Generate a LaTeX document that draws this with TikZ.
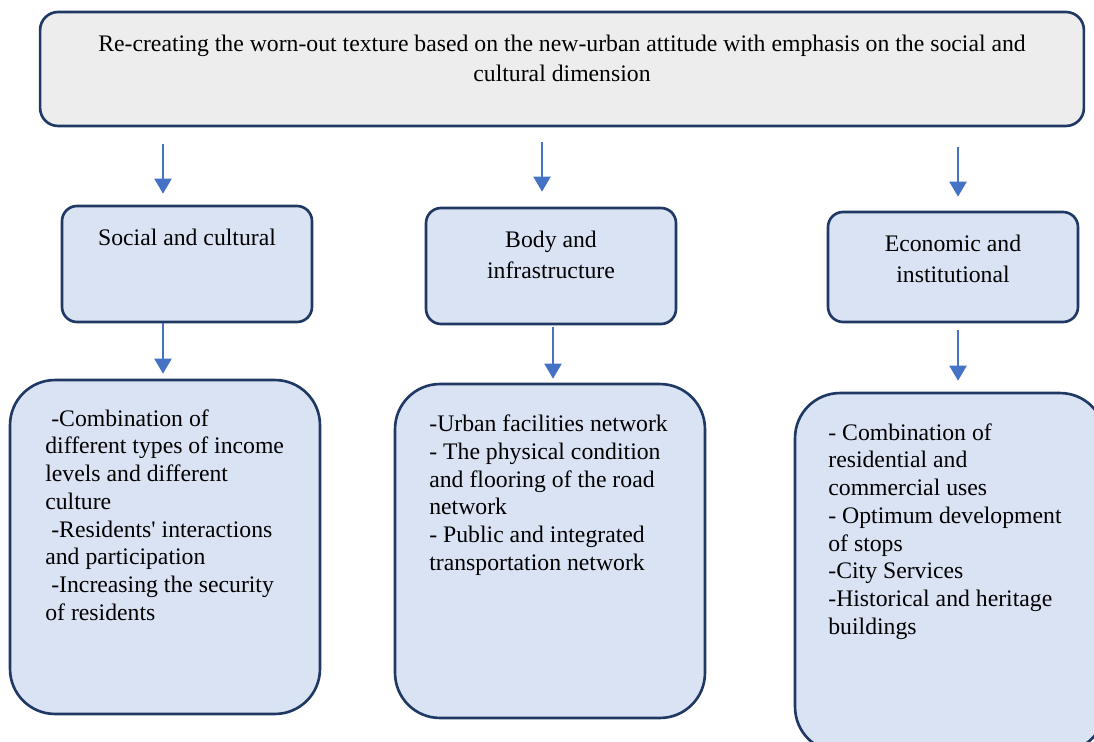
\documentclass[tikz,border=0pt]{standalone}
\usepackage{fontspec}
\setmainfont{Liberation Serif}
\usetikzlibrary{arrows.meta,positioning}
\definecolor{navy}{HTML}{1F3864}
\definecolor{arrowblue}{HTML}{4472C4}
\definecolor{greyfill}{HTML}{EDEDED}
\definecolor{bluefill}{HTML}{DAE3F3}

\tikzset{
  box/.style={draw=navy, line width=1.5pt, inner sep=0pt},
  headbox/.style={box, fill=greyfill, rounded corners=0.36cm},
  aspectbox/.style={box, fill=bluefill, rounded corners=0.3cm,
    minimum width=5cm},
  itembox/.style={box, fill=bluefill, rounded corners=0.9cm,
    minimum width=6.2cm},
  txt/.style={inner sep=0pt, font=\fontsize{13.5}{#1}\selectfont},
  flow/.style={->, draw=arrowblue, line width=1.2pt}
}

\begin{document}
\begin{tikzpicture}[x=0.02cm, y=-0.02cm,
    >={Triangle[length=0.3cm, width=0.34cm]}]
  \useasboundingbox (0,0) rectangle (1094,742);
  \clip (0,0) rectangle (1094,742);

  % goal on top (text placed by the baseline of its last line)
  \node[headbox, minimum width=20.88cm, minimum height=2.28cm] (goal) at (562,69) {};
  \node[txt=17pt, align=center, anchor=base] at (562,81.5)
    {Re-creating the worn-out texture based on the new-urban attitude with emphasis on the social and\\
     cultural dimension};

  % the three dimensions
  \node[aspectbox, minimum height=2.32cm] (soc) at (187,264) {};
  \node[aspectbox, minimum height=2.32cm] (body) at (551,266) {};
  \node[aspectbox, minimum height=2.2cm] (econ) at (953,267) {};
  \node[txt=17.6pt, anchor=base] at (187,245.5) {Social and cultural};
  \node[txt=17.6pt, align=center, anchor=base] at (551,278.5) {Body and\\infrastructure};
  \node[txt=17.6pt, align=center, anchor=base] at (953,282.5) {Economic and\\institutional};

  % what each dimension covers
  \node[itembox, minimum height=6.68cm] (socl) at (165,547) {};
  \node[itembox, minimum height=6.68cm] (bodyl) at (550,551) {};
  \node[itembox, minimum height=7.18cm] (econl) at (950,572.5) {};

  \node[txt=15.8pt, align=left, anchor=base west] at (45,620.5)
    {\hspace*{3.4pt}-Combination of\\
     different types of income\\
     levels and different\\
     culture\\
     \hspace*{3.4pt}-Residents\textquotesingle{} interactions\\
     and participation\\
     \hspace*{3.4pt}-Increasing the security\\
     of residents};
  \node[txt=15.8pt, align=left, anchor=base west] at (429,570.5)
    {-Urban facilities network\\
     - The physical condition\\
     and flooring of the road\\
     network\\
     - Public and integrated\\
     transportation network};
  \node[txt=15.8pt, align=left, anchor=base west] at (828,634.5)
    {- Combination of\\
     residential and\\
     commercial uses\\
     - Optimum development\\
     of stops\\
     -City Services\\
     -Historical and heritage\\
     buildings};

  % arrows, left slightly apart from the boxes
  \foreach \a/\b/\x/\s/\e in {goal/soc/163/17/11, goal/body/542/15/15,
      goal/econ/958/20/14, soc/socl/163/0/5, body/bodyl/553/2/4,
      econ/econl/958/7/11} {
    \coordinate (ax) at (\x,0);
    \draw[flow, shorten <={\s*0.02cm}, shorten >={\e*0.02cm}]
      (\a.south -| ax) -- (\b.north -| ax);
  }
\end{tikzpicture}
\end{document}
